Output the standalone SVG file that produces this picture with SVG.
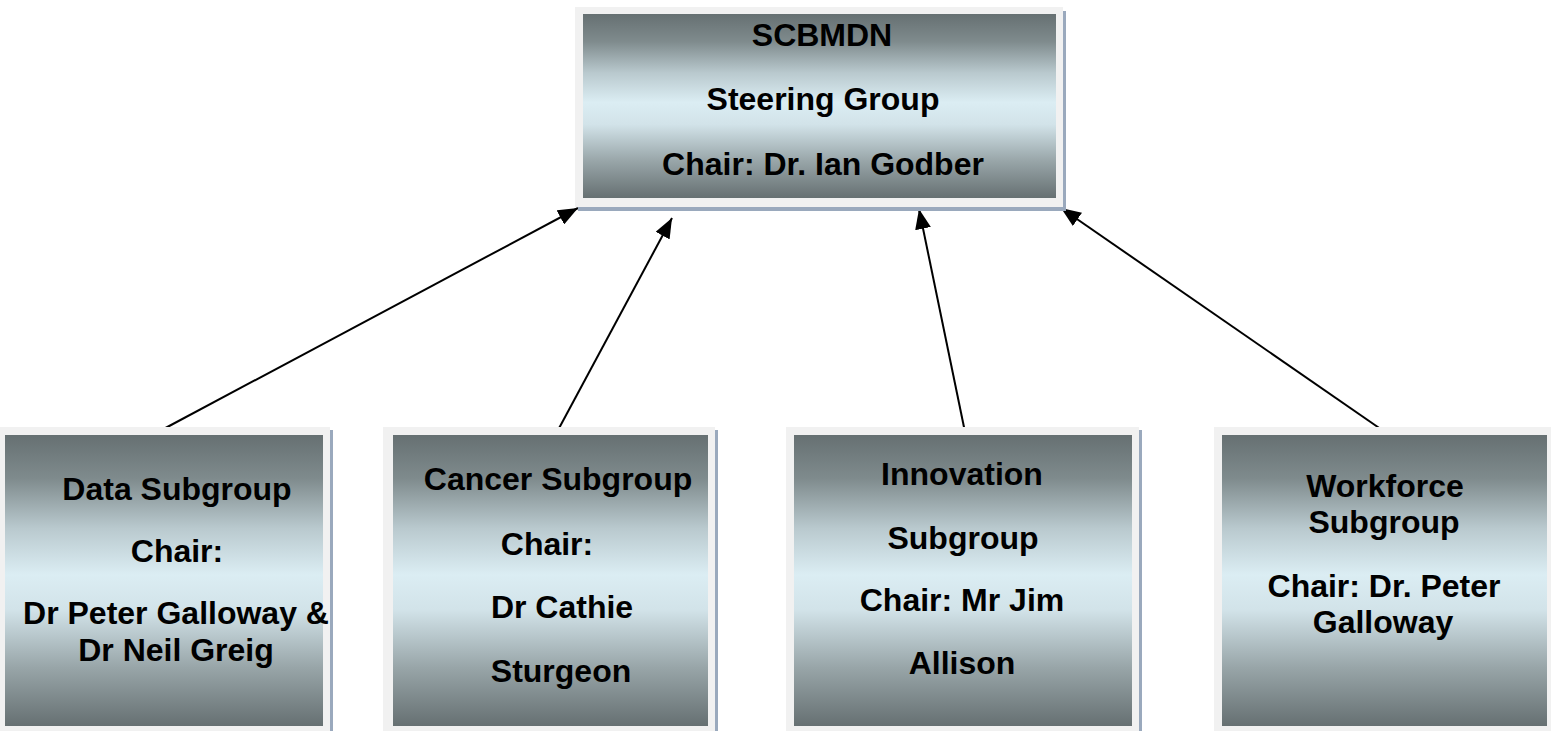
<svg xmlns="http://www.w3.org/2000/svg" width="1551" height="731" viewBox="0 0 1551 731">
  <style>
    .shadow { fill: #9aa9bd; }
    .frame { fill: #f1f1f1; }
    .inner { fill: url(#chrome); }
    .lbl { font-family: "Liberation Sans", Arial, sans-serif; font-weight: bold; font-size: 32px; fill: #000; text-anchor: middle; }
    .conn { stroke: #000; stroke-width: 2; fill: none; marker-end: url(#arrow); }
  </style>
  <defs>
    <linearGradient id="chrome" x1="0" y1="0" x2="0" y2="1">
      <stop offset="0" stop-color="#667072"/>
      <stop offset="0.15" stop-color="#7f8b8d"/>
      <stop offset="0.32" stop-color="#b9c9ce"/>
      <stop offset="0.48" stop-color="#dbedf3"/>
      <stop offset="0.6" stop-color="#d2e3e9"/>
      <stop offset="0.8" stop-color="#98a5a8"/>
      <stop offset="1" stop-color="#667072"/>
    </linearGradient>
    <marker id="arrow" viewBox="0 0 20 16" refX="20" refY="8" markerWidth="20" markerHeight="16" markerUnits="userSpaceOnUse" orient="auto">
      <path d="M0,0 L20,8 L0,16 z" fill="#000"/>
    </marker>
  </defs>

  <g id="connectors">
    <line class="conn" x1="158" y1="432" x2="578" y2="208"/>
    <line class="conn" x1="557" y1="432" x2="672" y2="218"/>
    <line class="conn" x1="965" y1="432" x2="919" y2="209"/>
    <line class="conn" x1="1385" y1="432" x2="1061" y2="208"/>
  </g>

  <g id="steering">
    <rect class="shadow" x="578" y="11" width="488" height="200"/>
    <rect class="frame" x="575" y="7" width="488" height="200"/>
    <rect class="inner" x="583" y="14" width="473" height="184"/>
    <text class="lbl" x="822" y="46">SCBMDN</text>
    <text class="lbl" x="823" y="110">Steering Group</text>
    <text class="lbl" x="823" y="175">Chair: Dr. Ian Godber</text>
  </g>

  <g id="data">
    <rect class="shadow" x="0" y="430" width="333" height="310"/>
    <rect class="frame" x="-3" y="427" width="333" height="310"/>
    <rect class="inner" x="5" y="435" width="318" height="291"/>
    <text class="lbl" x="177" y="500">Data Subgroup</text>
    <text class="lbl" x="177" y="562">Chair:</text>
    <text class="lbl" x="176" y="624">Dr Peter Galloway &amp;</text>
    <text class="lbl" x="176" y="661">Dr Neil Greig</text>
  </g>

  <g id="cancer">
    <rect class="shadow" x="386" y="430" width="332" height="310"/>
    <rect class="frame" x="383" y="427" width="332" height="310"/>
    <rect class="inner" x="393" y="435" width="315" height="291"/>
    <text class="lbl" x="558" y="490">Cancer Subgroup</text>
    <text class="lbl" x="547" y="555">Chair:</text>
    <text class="lbl" x="562" y="618">Dr Cathie</text>
    <text class="lbl" x="561" y="682">Sturgeon</text>
  </g>

  <g id="innovation">
    <rect class="shadow" x="789" y="430" width="353" height="310"/>
    <rect class="frame" x="786" y="427" width="353" height="310"/>
    <rect class="inner" x="794" y="435" width="338" height="291"/>
    <text class="lbl" x="962" y="485">Innovation</text>
    <text class="lbl" x="963" y="549">Subgroup</text>
    <text class="lbl" x="962" y="611">Chair: Mr Jim</text>
    <text class="lbl" x="962" y="674">Allison</text>
  </g>

  <g id="workforce">
    <rect class="shadow" x="1217" y="430" width="340" height="310"/>
    <rect class="frame" x="1214" y="427" width="340" height="310"/>
    <rect class="inner" x="1222" y="435" width="325" height="291"/>
    <text class="lbl" x="1385" y="497">Workforce</text>
    <text class="lbl" x="1384" y="533">Subgroup</text>
    <text class="lbl" x="1384" y="597">Chair: Dr. Peter</text>
    <text class="lbl" x="1383" y="633">Galloway</text>
  </g>
</svg>
